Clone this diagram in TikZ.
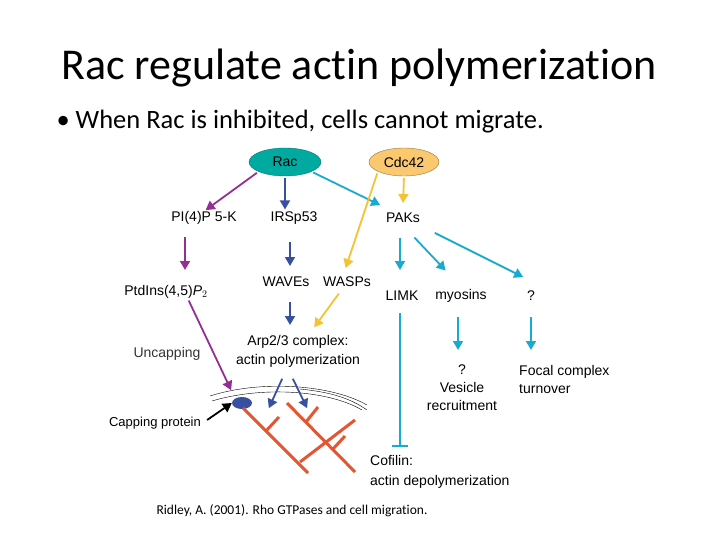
\documentclass[tikz,border=0pt]{standalone}
\usepackage{fontspec}
\setmainfont[Ligatures=NoCommon]{Carlito}
\newfontfamily\hv{Liberation Sans}
\usetikzlibrary{arrows.meta,shapes.geometric}
\definecolor{cpur}{RGB}{150,45,150}
\definecolor{cnav}{RGB}{55,80,160}
\definecolor{ccya}{RGB}{25,170,210}
\definecolor{cyel}{RGB}{245,195,50}
\definecolor{cred}{RGB}{230,85,50}
\definecolor{cteal}{RGB}{0,170,160}
\definecolor{corg}{RGB}{250,200,110}
\begin{document}
\begin{tikzpicture}[x=1pt,y=-1pt,
 lab/.style={font=\hv\fontsize{14}{16}\selectfont,inner sep=0pt},
 arr/.style={line width=1.8pt,-{Triangle[length=9pt,width=10pt]},shorten >=2pt,shorten <=2pt},
 pur/.style={arr,cpur}, nav/.style={arr,cnav}, cya/.style={arr,ccya}, yel/.style={arr,cyel},
 fil/.style={cred,line width=3pt}]
\useasboundingbox (0,0) rectangle (720,540);
\node[font=\fontsize{44}{50}\selectfont] (title) at (359,68) {Rac regulate actin polymerization};
\node[font=\fontsize{26.5}{30}\selectfont,anchor=west] (bul) at (53,122) {\textbullet\ When Rac is inhibited, cells cannot migrate.};
\node[ellipse,fill=cteal,draw=cteal!70!black,minimum width=72pt,minimum height=28pt,lab] (rac) at (285,162) {Rac};
\node[ellipse,fill=corg,draw=corg!60!black,minimum width=70pt,minimum height=28pt,lab] (cdc) at (404,162) {Cdc42};
\node[lab] (pi) at (204,218) {PI(4)P 5-K};
\node[lab] (irs) at (294,218) {IRSp53};
\node[lab] (paks) at (403,218) {PAKs};
\node[lab] (wave) at (286,282) {WAVEs};
\node[lab] (wasp) at (347,282) {WASPs};
\node[lab] (limk) at (402,296) {LIMK};
\node[lab] (myo) at (461,296) {myosins};
\node[lab] (q1) at (531,296) {?};
\node[lab] (ptd) at (166,292) {PtdIns(4,5)\textit{P}$_2$};
\node[lab,text=black!80] (unc) at (167,354) {Uncapping};
\node[lab,align=center] (arp) at (298,351) {Arp2/3 complex:\\[3pt]actin polymerization};
\node[lab,font=\hv\fontsize{13}{15}\selectfont] (cap) at (155,423) {Capping protein};
\node[lab,align=center] (ves) at (462,388) {?\\[2pt]Vesicle\\[2pt]recruitment};
\node[lab,align=left,anchor=west] (foc) at (519,379) {Focal complex\\[2pt]turnover};
\node[lab,align=left,anchor=west] (cof) at (370,472) {Cofilin:\\[4pt]actin depolymerization};
\node[font=\fontsize{13.5}{15}\selectfont] (cit) at (292,511) {Ridley, A. (2001). Rho GTPases and cell migration.};
% membrane
\draw[thin] (210,396) .. controls (260,380) and (330,384) .. (367,405);
\draw[thin] (212,401) .. controls (262,386) and (328,390) .. (362,410);
\draw[thin] (300,389) .. controls (330,392) and (350,398) .. (367,410);
\node[ellipse,fill=cnav,minimum width=20pt,minimum height=12pt,inner sep=0pt] (cp) at (242,403) {};
% filaments
\draw[fil] (243,408) -- (308,473);
\draw[fil] (287,403) -- (355,472);
\draw[fil] (266,431) -- (279,417);
\draw[fil] (300,462) -- (355,420);
\draw[fil] (306,422) -- (318,407);
\draw[fil] (333,449) -- (345,436);
% arrows
\coordinate (m1) at (232,392);
\draw[pur] (rac.200) -- (pi.north);
\draw[pur] (185,235) -- (185,272);
\draw[pur] (ptd.south east) ++(-20,0) -- (m1);
\draw[nav] (rac.south) -- (rac.south|-irs.north);
\draw[nav] (290,240) -- (290,268);
\draw[nav] (290,300) -- (290,327);
\draw[nav] (283,377) -- (268,410);
\draw[nav] (292,377) -- (308,410);
\draw[cya] (rac.-20) -- (382,206);
\draw[cya] (400,236) -- (400,272);
\draw[cya] (413,236) -- (447,272);
\draw[cya] (433,232) -- (525,278);
\draw[cya] (458,315) -- (458,352);
\draw[cya] (531,315) -- (531,352);
\draw[ccya,line width=1.8pt] (400,313) -- (400,446) (392,446) -- (408,446);
\draw[yel] (cdc.200) -- (345,270);
\draw[yel] (cdc.south) -- (403,205);
\draw[yel] (340,292) -- (313,329);
\draw[line width=1.8pt,-{Triangle[length=9pt,width=10pt]}] (cap.east) ++(6,-3) -- (cp.west);
\end{tikzpicture}
\end{document}
